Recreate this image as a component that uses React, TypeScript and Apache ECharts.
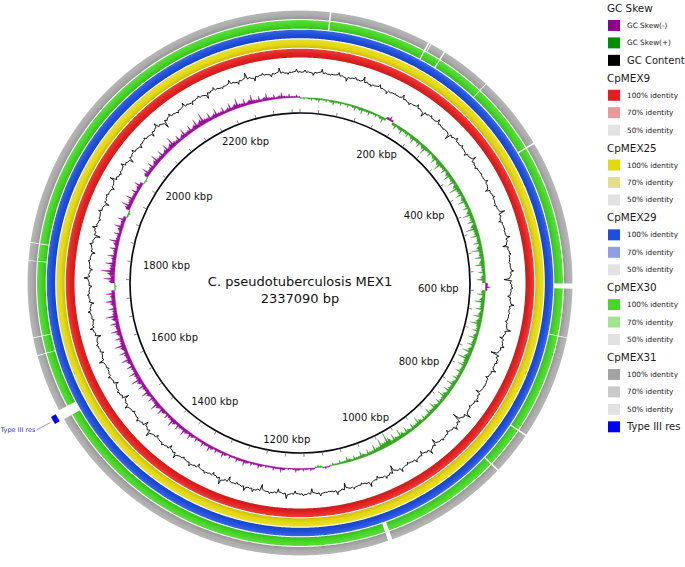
import React, { useEffect, useRef } from "react";
import * as echarts from "echarts";

// ---------------- data ----------------
const GENOME_LENGTH = 2337090;
const TITLE = "C. pseudotuberculosis MEX1";
const SUBTITLE = "2337090 bp";
const TICK_LABELS_KBP = [200, 400, 600, 800, 1000, 1200, 1400, 1600, 1800, 2000, 2200];
const MINOR_TICK_STEP_KBP = 40;

// GC content deviation (one value per genome bin)
const GC_CONTENT = [
  2, -3, 4, -1, 3, -4, 2, 5, -2, 3, -3, 1, 4,
  -2, 3, -5, 2, 4, -1, -6, 3, 2, -3, 5, -2, 1,
  3, -4, 2, -2, 6, -3, 1, 4, -5, 2, -1, 3, -7,
  2, -3, 4, 1, -2, 5, -4, 3, -8, 2, 4, -3, 1,
  -5, 3, -2, 6, -9, 4, -3, 2, -6, 5, -4, 3, -2,
  4, -7, 3, -3, 5, -2, 2, -6, 4, -1, 3, -5, 2,
  -3, 5, -4, 2, -6, 3, 4, -2, -5, 6, -3, 2, -4,
  3, -2, 5, -4, 2, -3, 6, -5, 3, -2, 4, -6, 2,
  -4, 3, -2, 5, -3, 2, -5, 4, -2, 3, -4, 2, -3,
  5, -3, 2, -4, 3, -6, 4, -2, 3, -5, 2, -3, 6,
  -2, 4, -5, 3, -3, 2, -4, 5, -7, 3, -2, 4, -3,
  2, -5, 3, -2, 4, -3, 6, -4, 2, -3, 5, -2, 3,
];

// GC skew (x100), positive = GC Skew(+), negative = GC Skew(-)
const GC_SKEW = [
  2, 3, 4, 3, 5, 4, 4, 5, 6, 5, 4, 6, -5,
  6, 7, 6, 8, 7, 9, 6, 8, 10, 7, 9, 8, 11,
  8, 9, 7, 10, 8, 12, 9, 8, 11, 9, 10, 7, 9,
  -5, 8, 10, 8, 9, 11, 7, 9, 8, 10, 12, 9, 8,
  7, 9, 8, 10, 7, 9, 8, 6, 9, 7, 8, 10, 9,
  14, 11, 8, 6, 7, 5, 6, 4, 3, -2, 3, -3, -3,
  -4, -2, -5, -4, -3, -5, -4, -6, -5, -4, -6, -5, -7,
  -6, -5, -7, -8, -7, -9, -6, -8, -10, -7, -9, -8, -11,
  -9, -8, -10, -9, -11, -8, -10, -9, -12, -8, -10, -9, 2,
  -11, -14, -10, -9, -8, -10, -7, -9, -8, 3, -10, -9, -7,
  -8, 2, -9, -8, -10, -8, -9, -11, -7, -9, -8, -10, -12,
  -8, -9, -7, -8, -10, -7, -9, -6, -7, -5, -6, -4, -3,
];

// BLAST rings, inner to outer
const RING_NAMES = ["CpMEX9", "CpMEX25", "CpMEX29", "CpMEX30", "CpMEX31"];
const RING_COLORS = ["#e32120", "#e4d810", "#1e4fdc", "#44d624", "#ababab"];
// regions without hits, in kbp
const GAPS_CPMEX9: number[][] = [];
const GAPS_CPMEX25: number[][] = [];
const GAPS_CPMEX29: number[][] = [];
const GAPS_CPMEX30 = [
  [41, 43], [182, 184], [207, 209], [279, 280], [383, 385], [585, 592], [659, 660],
  [804, 806], [865, 867], [1040, 1046], [1558, 1572], [1652, 1653], [1677, 1678],
  [1783, 1784], [1808, 1809],
];
const GAPS_CPMEX31 = [
  [41, 43], [182, 184], [186, 187], [207, 209], [279, 280], [383, 385], [585, 592],
  [659, 660], [804, 806], [865, 867], [1040, 1046], [1558, 1572], [1652, 1653],
  [1677, 1678], [1783, 1784], [1808, 1809],
];
const RING_GAPS = [GAPS_CPMEX9, GAPS_CPMEX25, GAPS_CPMEX29, GAPS_CPMEX30, GAPS_CPMEX31];

// annotated features, kbp
const FEATURE_NAMES = ["Type III res"];
const FEATURE_STARTS = [1559];
const FEATURE_ENDS = [1569];

// legend
const LEGEND_TITLES = ["GC Skew", "CpMEX9", "CpMEX25", "CpMEX29", "CpMEX30", "CpMEX31"];
const LEGEND_LABELS = [
  ["GC Skew(-)", "GC Skew(+)", "GC Content"],
  ["100% identity", "70% identity", "50% identity"],
  ["100% identity", "70% identity", "50% identity"],
  ["100% identity", "70% identity", "50% identity"],
  ["100% identity", "70% identity", "50% identity"],
  ["100% identity", "70% identity", "50% identity", "Type III res"],
];
const LEGEND_COLORS = [
  ["#8e008e", "#008f00", "#000000"],
  ["#e31e1e", "#e69a9a", "#e2e2e2"],
  ["#e3d90f", "#e3df8f", "#e2e2e2"],
  ["#1e4fdc", "#8e9fe3", "#e2e2e2"],
  ["#44d824", "#a3e38f", "#e2e2e2"],
  ["#a3a3a3", "#c9c9c9", "#e2e2e2", "#0000ff"],
];
const LEGEND_BIG_LABELS = ["GC Content", "Type III res"];

// ---------------- layout ----------------
const CX = 300;
const CY = 283;
const FONT = '"DejaVu Sans", "Noto Sans", sans-serif';
const RING_RADII = [
  [225.5, 234.3],
  [235.3, 243.8],
  [244.8, 253.3],
  [254.3, 263],
  [264, 272.5],
];
const SKEW_PURPLE = "#9a109a";
const SKEW_GREEN = "#34a522";

function shade(hex: string, f: number) {
  const n = parseInt(hex.slice(1), 16);
  let r = n >> 16, g = (n >> 8) & 255, b = n & 255;
  const t = f < 0 ? 0 : 255;
  const p = Math.abs(f);
  r = Math.round(r + (t - r) * p);
  g = Math.round(g + (t - g) * p);
  b = Math.round(b + (t - b) * p);
  return `rgb(${r},${g},${b})`;
}

function segmentsFromGaps(gaps: number[][]) {
  const segs: number[][] = [];
  let pos = 0;
  const sorted = [...gaps].sort((a, b) => a[0] - b[0]);
  for (const [a, b] of sorted) {
    if (a * 1000 > pos) segs.push([pos, a * 1000]);
    pos = Math.max(pos, b * 1000);
  }
  if (pos < GENOME_LENGTH) segs.push([pos, GENOME_LENGTH]);
  return segs;
}

function buildOption(): any {
  const L = GENOME_LENGTH;

  const ringData: number[][] = [];
  RING_GAPS.forEach((g, k) => {
    segmentsFromGaps(g).forEach(([s, e]) => ringData.push([s, e, k]));
  });

  const skewW = L / GC_SKEW.length;
  const skewData = GC_SKEW.map((v, i) => [i * skewW, v]);

  const gcW = L / GC_CONTENT.length;
  const gcData = GC_CONTENT.map((v, i) => [(i + 0.5) * gcW, v, i]);

  const tickData: number[][] = [];
  for (let k = 0; k * MINOR_TICK_STEP_KBP * 1000 < L; k++) tickData.push([k * MINOR_TICK_STEP_KBP * 1000]);

  const labelData = TICK_LABELS_KBP.map((k) => [k * 1000, k]);
  const featureData = FEATURE_NAMES.map((n, i) => [FEATURE_STARTS[i] * 1000, FEATURE_ENDS[i] * 1000, i]);

  // legend graphic
  const graphic: any[] = [];
  let line = 0;
  const step = 17.45;
  LEGEND_TITLES.forEach((t, gi) => {
    const y0 = 8 + line * step;
    graphic.push({
      type: "text", x: 607, y: y0,
      style: { text: t, font: `10.4px ${FONT}`, fill: "#1a1a1a", verticalAlign: "middle", align: "left" },
    });
    line++;
    LEGEND_LABELS[gi].forEach((lab, ii) => {
      const y = 8 + line * step;
      const big = LEGEND_BIG_LABELS.includes(lab);
      graphic.push({
        type: "rect", shape: { x: 608, y: y - 5.5, width: 12, height: 11 },
        style: { fill: LEGEND_COLORS[gi][ii] },
      });
      graphic.push({
        type: "text", x: 627, y,
        style: { text: lab, font: `${big ? 10 : 7.3}px ${FONT}`, fill: "#1a1a1a", verticalAlign: "middle", align: "left" },
      });
      line++;
    });
  });
  graphic.push({
    type: "text", x: CX, y: CY - 2,
    style: { text: TITLE, font: `13px ${FONT}`, fill: "#111", align: "center", verticalAlign: "middle" },
  });
  graphic.push({
    type: "text", x: CX, y: CY + 15,
    style: { text: SUBTITLE, font: `13px ${FONT}`, fill: "#111", align: "center", verticalAlign: "middle" },
  });

  const hiddenAxis = {
    show: false, axisLine: { show: false }, axisTick: { show: false },
    axisLabel: { show: false }, splitLine: { show: false }, splitArea: { show: false },
  };

  return {
    animation: false,
    backgroundColor: "#ffffff",
    polar: [
      { center: [CX, CY], radius: [0, 285] },
      { center: [CX, CY], radius: [198, 224] },
      { center: [CX, CY], radius: [171, 200] },
    ],
    angleAxis: [0, 1, 2].map((i) => ({
      polarIndex: i, type: "value", min: 0, max: L, startAngle: 90, clockwise: true, ...hiddenAxis,
    })),
    radiusAxis: [
      { polarIndex: 0, type: "value", min: 0, max: 285, ...hiddenAxis },
      { polarIndex: 1, type: "value", min: -13, max: 13, ...hiddenAxis },
      { polarIndex: 2, type: "value", min: -14.5, max: 14.5, inverse: true, ...hiddenAxis },
    ],
    graphic,
    series: [
      // BLAST identity rings
      {
        type: "custom", coordinateSystem: "polar", polarIndex: 0, silent: true,
        data: ringData,
        renderItem: (params: any, api: any) => {
          const s = api.value(0), e = api.value(1), k = api.value(2);
          const [r0, r1] = RING_RADII[k];
          const n = Math.max(2, Math.ceil(((e - s) / L) * 1440));
          const pts: number[][] = [];
          for (let i = 0; i <= n; i++) {
            const p = api.coord([r1, s + ((e - s) * i) / n]);
            pts.push([p[0], p[1]]);
          }
          for (let i = n; i >= 0; i--) {
            const p = api.coord([r0, s + ((e - s) * i) / n]);
            pts.push([p[0], p[1]]);
          }
          const c = api.coord([0, 0]);
          const col = RING_COLORS[k];
          const fill = new echarts.graphic.RadialGradient(c[0], c[1], r1, [
            { offset: r0 / r1, color: shade(col, -0.12) },
            { offset: (r0 + (r1 - r0) * 0.45) / r1, color: col },
            { offset: (r1 - 0.6) / r1, color: shade(col, 0.12) },
            { offset: 1, color: shade(col, 0.3) },
          ], true);
          return { type: "polygon", shape: { points: pts }, style: { fill } };
        },
      },
      // GC content: jagged trace with spikes
      {
        type: "custom", coordinateSystem: "polar", polarIndex: 1, silent: true,
        data: gcData,
        renderItem: (params: any, api: any) => {
          const a = api.value(0), v = api.value(1), i = api.value(2);
          const nextV = GC_CONTENT[(i + 1) % GC_CONTENT.length];
          const P = (r: number, ang: number) => { const p = api.coord([r, ang]); return [p[0], p[1]]; };
          const j0 = v * 0.25;
          const j1 = nextV * 0.25;
          const pts = [
            P(j0, a), P(v, a + gcW * 0.08), P(j0 * -0.4, a + gcW * 0.25), P(j0 * 0.6, a + gcW * 0.5),
            P(-j0 * 0.5, a + gcW * 0.7), P(j1, a + gcW),
          ];
          return {
            type: "polyline", shape: { points: pts },
            style: { stroke: "#0d0d0d", lineWidth: 0.95, fill: "none" },
          };
        },
      },
      // GC skew
      {
        type: "custom", coordinateSystem: "polar", polarIndex: 2, silent: true,
        data: skewData,
        renderItem: (params: any, api: any) => {
          const a0 = api.value(0), v = api.value(1);
          const a1 = a0 + skewW;
          const band = v * 0.35;
          const P = (r: number, a: number) => { const p = api.coord([r, a]); return [p[0], p[1]]; };
          const pts = [
            P(0, a0), P(band, a0), P(band * 1.3, a0 + skewW * 0.2), P(v * 0.55, a0 + skewW * 0.27),
            P(band, a0 + skewW * 0.34), P(band, a0 + skewW * 0.45), P(v, a0 + skewW * 0.55),
            P(band, a0 + skewW * 0.65), P(band * 0.8, a0 + skewW * 0.8), P(v * 0.4, a0 + skewW * 0.86),
            P(band, a0 + skewW * 0.92), P(band, a1), P(0, a1),
          ];
          const col = v < 0 ? SKEW_PURPLE : SKEW_GREEN;
          return { type: "polygon", shape: { points: pts }, style: { fill: col, stroke: col, lineWidth: 0.3 } };
        },
      },
      // backbone circle
      {
        type: "custom", coordinateSystem: "polar", polarIndex: 0, silent: true,
        data: [[170, 0]],
        renderItem: (params: any, api: any) => {
          const c = api.coord([0, 0]);
          const p = api.coord([api.value(0), 0]);
          const r = Math.hypot(p[0] - c[0], p[1] - c[1]);
          return { type: "circle", shape: { cx: c[0], cy: c[1], r }, style: { fill: "none", stroke: "#0a0a14", lineWidth: 1.7 } };
        },
      },
      // minor ticks
      {
        type: "custom", coordinateSystem: "polar", polarIndex: 0, silent: true,
        data: tickData,
        renderItem: (params: any, api: any) => {
          const a = api.value(0);
          const p0 = api.coord([171, a]);
          const p1 = api.coord([174, a]);
          return { type: "line", shape: { x1: p0[0], y1: p0[1], x2: p1[0], y2: p1[1] }, style: { stroke: "#666", lineWidth: 0.8 } };
        },
      },
      // kbp labels
      {
        type: "custom", coordinateSystem: "polar", polarIndex: 0, silent: true,
        data: labelData,
        renderItem: (params: any, api: any) => {
          const a = api.value(0);
          const kbp = api.value(1);
          const c = api.coord([0, a]);
          const d = api.coord([100, a]);
          const ux = (d[0] - c[0]) / 100, uy = (d[1] - c[1]) / 100;
          const text = `${kbp} kbp`;
          const hw = text.length * 2.9;
          const hh = 5.8;
          const rr = 165 - (hw * Math.abs(ux) * (1 + 0.3 * Math.pow(Math.abs(ux), 4)) + hh * Math.abs(uy));
          return {
            type: "text", x: c[0] + ux * rr, y: c[1] + uy * rr,
            style: { text, font: `10px ${FONT}`, fill: "#111", align: "center", verticalAlign: "middle" },
          };
        },
      },
      // features
      {
        type: "custom", coordinateSystem: "polar", polarIndex: 0, silent: true,
        data: featureData,
        renderItem: (params: any, api: any) => {
          const s = api.value(0), e = api.value(1), i = api.value(2);
          const pts: number[][] = [];
          const n = 8;
          for (let j = 0; j <= n; j++) { const p = api.coord([282.5, s + ((e - s) * j) / n]); pts.push([p[0], p[1]]); }
          for (let j = n; j >= 0; j--) { const p = api.coord([277.5, s + ((e - s) * j) / n]); pts.push([p[0], p[1]]); }
          const m = api.coord([280, (s + e) / 2]);
          const lx = m[0] - 19, ly = m[1] + 11;
          return {
            type: "group",
            children: [
              { type: "polygon", shape: { points: pts }, style: { fill: "#0000ff", stroke: "#000080", lineWidth: 0.5 } },
              { type: "line", shape: { x1: m[0] - 5, y1: m[1] + 3.5, x2: lx, y2: ly }, style: { stroke: "#4a4ad0", lineWidth: 0.6 } },
              {
                type: "text", x: lx - 1, y: ly,
                style: { text: FEATURE_NAMES[i], font: `6.5px ${FONT}`, fill: "#3030c8", align: "right", verticalAlign: "middle" },
              },
            ],
          };
        },
      },
    ],
  };
}

export default function App() {
  const ref = useRef<HTMLDivElement>(null);
  useEffect(() => {
    const chart = echarts.init(ref.current!, null, { renderer: "svg" });
    chart.setOption(buildOption());
    return () => chart.dispose();
  }, []);
  return (
    <div
      ref={ref}
      style={{ position: "fixed", left: 0, top: 0, width: 685, height: 567, background: "#fff" }}
    />
  );
}
